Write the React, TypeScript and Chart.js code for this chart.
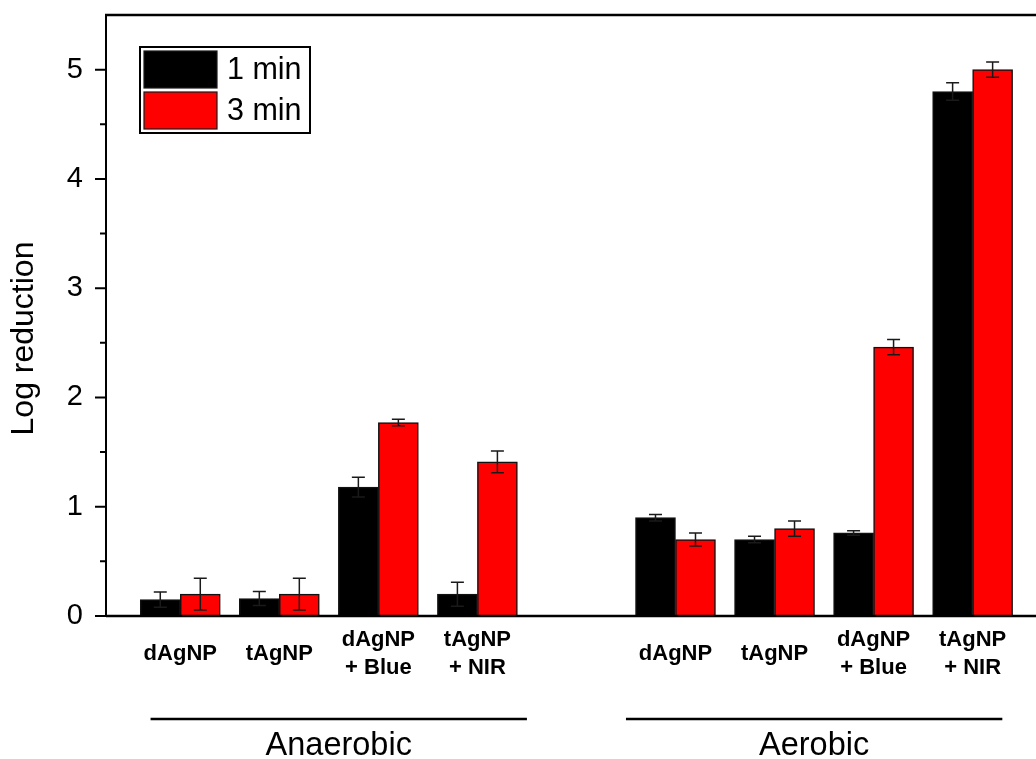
import { useEffect, useRef } from 'react';
import { Chart, registerables } from 'chart.js';

Chart.register(...registerables);

const FONT = '"Liberation Sans", Arial, Helvetica, sans-serif';

// Treatments shown within each atmosphere (multi-line tick labels)
const conditions: string[][] = [['dAgNP'], ['tAgNP'], ['dAgNP', '+ Blue'], ['tAgNP', '+ NIR']];
const atmospheres = ['Anaerobic', 'Aerobic'];
const seriesLabels = ['1 min', '3 min'];
const seriesColors = ['#000000', '#ff0000'];

// Log reduction, anaerobic first then aerobic, in the order of `conditions`
const oneMin = [0.15, 0.16, 1.18, 0.2, 0.9, 0.7, 0.76, 4.8];
const oneMinErr = [0.07, 0.065, 0.09, 0.11, 0.03, 0.03, 0.02, 0.08];
const threeMin = [0.2, 0.2, 1.77, 1.41, 0.7, 0.8, 2.46, 5.0];
const threeMinErr = [0.145, 0.145, 0.03, 0.1, 0.06, 0.07, 0.07, 0.07];

const yMax = 5.5;
const yStep = 0.5;

// Each atmosphere occupies consecutive slots, separated by one empty slot
const slotOf = (g: number, i: number) => g * (conditions.length + 1) + i;
const barSlots = atmospheres.flatMap((_, g) => conditions.map((__, i) => slotOf(g, i)));
const slotLabel = new Map<number, string[]>(
  barSlots.map((s, k) => [s, conditions[k % conditions.length]])
);

const decorations = {
  id: 'decorations',
  afterDraw(chart: any) {
    const { ctx, chartArea: a, scales } = chart;
    const x = scales.x;
    const y = scales.y;
    ctx.save();

    // error bars
    chart.data.datasets.forEach((ds: any, di: number) => {
      const meta = chart.getDatasetMeta(di);
      meta.data.forEach((bar: any, k: number) => {
        const v = ds.data[k].y;
        const e = ds.errors[k];
        const top = y.getPixelForValue(v + e);
        const bot = y.getPixelForValue(v - e);
        ctx.strokeStyle = '#1a1a1a';
        ctx.lineWidth = 1.5;
        ctx.beginPath();
        ctx.moveTo(bar.x, top);
        ctx.lineTo(bar.x, bot);
        ctx.moveTo(bar.x - 6.5, top);
        ctx.lineTo(bar.x + 6.5, top);
        ctx.moveTo(bar.x - 6.5, bot);
        ctx.lineTo(bar.x + 6.5, bot);
        ctx.stroke();
      });
    });

    // frame: top edge, left axis, bottom axis
    ctx.strokeStyle = '#000';
    ctx.lineWidth = 2.5;
    ctx.beginPath();
    ctx.moveTo(a.left - 1, a.top);
    ctx.lineTo(a.right, a.top);
    ctx.moveTo(a.left, a.bottom);
    ctx.lineTo(a.right, a.bottom);
    ctx.stroke();
    ctx.lineWidth = 2;
    ctx.beginPath();
    ctx.moveTo(a.left, a.top);
    ctx.lineTo(a.left, a.bottom + 1);
    ctx.stroke();

    // y ticks: long at integers, short at halves
    ctx.lineWidth = 2;
    ctx.beginPath();
    for (let v = 0; v < yMax; v += yStep) {
      const py = y.getPixelForValue(v);
      const len = Number.isInteger(v) ? 11 : 6;
      ctx.moveTo(a.left - len, py);
      ctx.lineTo(a.left, py);
    }
    ctx.stroke();

    // atmosphere brackets and names
    const unit = x.getPixelForValue(1) - x.getPixelForValue(0);
    atmospheres.forEach((name, g) => {
      const mid = slotOf(g, 0) + (conditions.length - 1) / 2 + (g === 0 ? 0.1 : -0.1);
      const cx = x.getPixelForValue(mid);
      const half = 1.9 * unit;
      ctx.lineWidth = 2.5;
      ctx.beginPath();
      ctx.moveTo(cx - half, 719);
      ctx.lineTo(cx + half, 719);
      ctx.stroke();
      ctx.fillStyle = '#000';
      ctx.font = `32.5px ${FONT}`;
      ctx.textAlign = 'center';
      ctx.textBaseline = 'alphabetic';
      ctx.fillText(name, cx, 755);
    });

    // y axis title
    ctx.save();
    ctx.translate(24, (a.top + a.bottom) / 2 + 23);
    ctx.rotate(-Math.PI / 2);
    ctx.font = `32px ${FONT}`;
    ctx.textAlign = 'center';
    ctx.textBaseline = 'middle';
    ctx.fillText('Log reduction', 0, 0);
    ctx.restore();

    // legend box
    const lx = a.left + 33;
    const ly = a.top + 31;
    ctx.lineWidth = 2;
    ctx.strokeStyle = '#000';
    ctx.strokeRect(lx + 1, ly + 1, 170, 86);
    chart.data.datasets.forEach((ds: any, di: number) => {
      const sy = ly + 5 + di * 41;
      ctx.fillStyle = ds.backgroundColor;
      ctx.fillRect(lx + 5, sy, 73, 37);
      ctx.lineWidth = 1.2;
      ctx.strokeStyle = '#1a1a1a';
      ctx.strokeRect(lx + 5, sy, 73, 37);
      ctx.fillStyle = '#000';
      ctx.font = `30.5px ${FONT}`;
      ctx.textAlign = 'left';
      ctx.textBaseline = 'middle';
      ctx.fillText(ds.label, lx + 88, sy + 20);
    });

    ctx.restore();
  },
};

export default function App() {
  const ref = useRef<HTMLCanvasElement | null>(null);

  useEffect(() => {
    document.body.style.margin = '0';
    const canvas = ref.current;
    if (!canvas) return;
    const series = [
      { values: oneMin, errors: oneMinErr },
      { values: threeMin, errors: threeMinErr },
    ];
    const chart = new Chart(canvas, {
      type: 'bar',
      data: {
        datasets: series.map((s, si) => ({
          label: seriesLabels[si],
          data: barSlots.map((slot, k) => ({ x: slot, y: s.values[k] })),
          errors: s.errors,
          backgroundColor: seriesColors[si],
          borderColor: '#111111',
          borderWidth: 1.5,
          barThickness: 40,
        })) as any,
      },
      options: {
        animation: false,
        responsive: false,
        devicePixelRatio: 1,
        layout: { padding: { top: 15, left: 0, right: 0, bottom: 0 } },
        plugins: {
          legend: { display: false },
          tooltip: { enabled: false },
        },
        scales: {
          x: {
            type: 'linear',
            offset: false,
            min: -0.75,
            max: 8.64,
            grid: { display: false, drawTicks: false },
            border: { display: false },
            afterBuildTicks: (scale: any) => {
              scale.ticks = barSlots.map((v) => ({ value: v }));
            },
            afterFit: (scale: any) => {
              scale.height = 143;
              scale.paddingLeft = 0;
              scale.paddingRight = 0;
            },
            ticks: {
              autoSkip: false,
              maxRotation: 0,
              minRotation: 0,
              padding: 24,
              crossAlign: 'center',
              color: '#000',
              font: { family: FONT, size: 22, weight: 'bold', lineHeight: 1.27 },
              callback: (v: any) => slotLabel.get(Number(v)) ?? '',
            },
          },
          y: {
            min: 0,
            max: yMax,
            grid: { display: false, drawTicks: false },
            border: { display: false },
            afterFit: (scale: any) => {
              scale.width = 106;
              scale.paddingTop = 0;
              scale.paddingBottom = 0;
            },
            ticks: {
              stepSize: yStep,
              padding: 23,
              color: '#000',
              font: { family: FONT, size: 29 },
              callback: (v: any) => (Number.isInteger(Number(v)) ? String(v) : ''),
            },
          },
        },
      } as any,
      plugins: [decorations],
    });
    return () => chart.destroy();
  }, []);

  return (
    <div style={{ width: 1036, height: 759, position: 'relative', background: '#fff' }}>
      <canvas ref={ref} width={1036} height={759} style={{ display: 'block' }} />
    </div>
  );
}
